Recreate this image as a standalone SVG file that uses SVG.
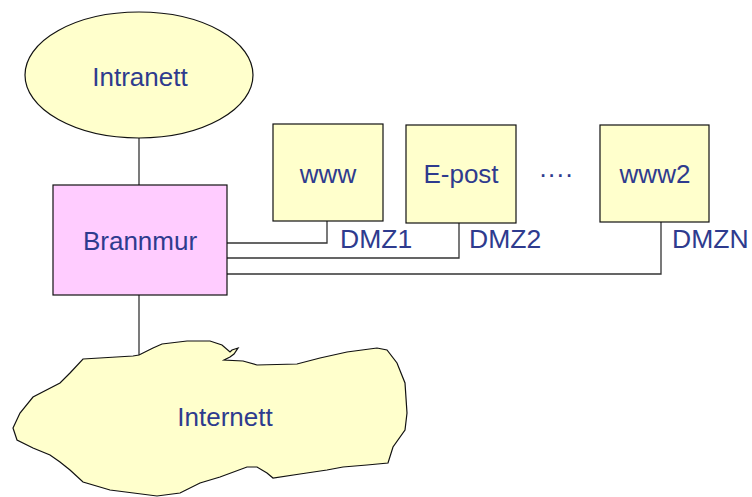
<svg xmlns="http://www.w3.org/2000/svg" width="752" height="497" viewBox="0 0 752 497">
<style>
.lbl{font-family:"Liberation Sans",Arial,sans-serif;font-size:26px;fill:#2E3B8E;text-anchor:middle}
.dmz{font-family:"Liberation Sans",Arial,sans-serif;font-size:26.5px;fill:#2E3B8E}
.y{fill:#FFFFCC;stroke:#111;stroke-width:1.2}
.p{fill:#FFCCFF;stroke:#111;stroke-width:1.2}
.c{fill:none;stroke:#333;stroke-width:1.3}
</style>
<rect width="752" height="497" fill="#fff"/>
<g id="connectors">
<line class="c" x1="139" y1="138" x2="139" y2="185"/>
<line class="c" x1="139" y1="295" x2="139" y2="356"/>
<polyline class="c" points="227,243 327,243 327,221"/>
<polyline class="c" points="227,258 459,258 459,223"/>
<polyline class="c" points="227,274 661,274 661,222"/>
</g>
<g id="intranett">
<ellipse class="y" cx="139" cy="75" rx="114" ry="63"/>
<text class="lbl" x="140" y="86">Intranett</text>
</g>
<g id="brannmur">
<rect class="p" x="53" y="185" width="174" height="110"/>
<text class="lbl" x="140" y="250">Brannmur</text>
</g>
<g id="www">
<rect class="y" x="273" y="124" width="110" height="97"/>
<text class="lbl" x="328" y="183">www</text>
</g>
<g id="epost">
<rect class="y" x="406" y="125" width="110" height="98"/>
<text class="lbl" x="461" y="183">E-post</text>
</g>
<g id="dots">
<text class="lbl" x="556" y="183">····</text>
</g>
<g id="www2">
<rect class="y" x="600" y="125" width="109" height="97"/>
<text class="lbl" x="655" y="183">www2</text>
</g>
<g id="dmz-labels">
<text class="dmz" x="340" y="248">DMZ1</text>
<text class="dmz" x="469" y="248">DMZ2</text>
<text class="dmz" x="672" y="248">DMZN</text>
</g>
<g id="internett">
<path class="y" d="M83,359 L133,356 L139,355 L153,348 L162,344 L187,341 L210,341 L222,345 L230,352 L232,350 L238,348 L234,354 L230,357 L224,360 L243,361 L257,365 L297,364 L320,358 L347,352 L377,348 L387,350 L397,363 L405,383 L407,413 L405,430 L393,447 L388,463 L367,465 L343,467 L327,470 L300,474 L273,478 L267,473 L257,467 L247,467 L220,477 L200,483 L180,493 L157,496 L110,490 L83,482 L70,470 L60,462 L50,455 L33,448 L17,440 L13,428 L20,413 L33,397 L60,383 L70,373 Z"/>
<text class="lbl" x="225" y="426">Internett</text>
</g>
</svg>
